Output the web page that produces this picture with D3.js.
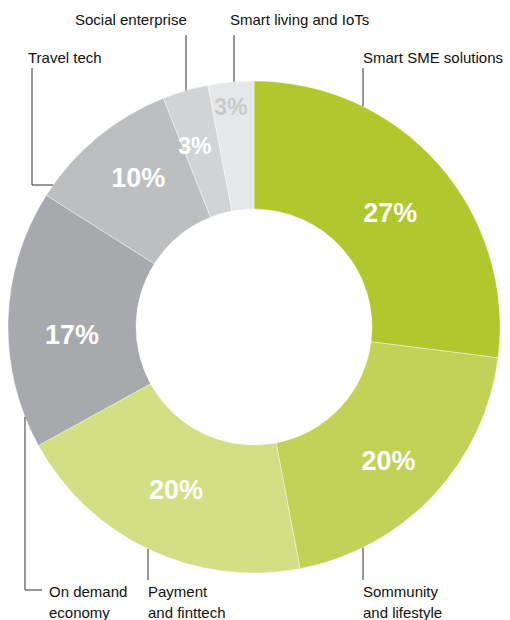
<!DOCTYPE html>
<html>
<head>
<meta charset="utf-8">
<script src="https://cdn.jsdelivr.net/npm/d3@7"></script>
<style>
  html, body { margin: 0; padding: 0; background: #fff; }
  svg { display: block; font-family: "Liberation Sans", Arial, Helvetica, sans-serif; }
</style>
</head>
<body>
<svg id="chart" width="510" height="620"></svg>
<script>
// Segment names (clockwise from 12 o'clock) and their shares in percent
const categories = [
  "Smart SME solutions",
  "Sommunity and lifestyle",
  "Payment and finttech",
  "On demand economy",
  "Travel tech",
  "Social enterprise",
  "Smart living and IoTs"
];
const shares = [27, 20, 20, 17, 10, 3, 3];
const valueLabels = ["27%", "20%", "20%", "17%", "10%", "3%", "3%"];

// Styling for each segment
const fills = ["#b0c72d", "#c1d257", "#d2df84", "#a8a9ac", "#bdbec0", "#d2d3d5", "#e6e7e8"];
const labelColors = ["#fff", "#fff", "#fff", "#fff", "#fff", "#fff", "#c9cacc"];
const labelSizes = [27, 27, 27, 27, 27, 23, 23];
// small hand adjustments of the percentage labels (px)
const labelNudge = [[-1, 6], [1, 8], [0, -3], [1, 13], [1, -9], [-8, -6], [-6, -38]];

// Callout layout: text lines, text anchor, x of the vertical leader run,
// far end y of that run, which half of the ring it meets, optional elbow
const callouts = [
  { i: 0, lines: ["Smart SME solutions"], tx: 363, ty: 63, lx: 363, ly: 68, upper: true },
  { i: 1, lines: ["Sommunity", "and lifestyle"], tx: 363, ty: 597, lx: 363, ly: 580, upper: false },
  { i: 2, lines: ["Payment", "and finttech"], tx: 148, ty: 597, lx: 148, ly: 580, upper: false },
  { i: 3, lines: ["On demand", "economy"], tx: 49, ty: 597, lx: 25, ly: 590, upper: false, elbowX: 42 },
  { i: 4, lines: ["Travel tech"], tx: 28, ty: 63, lx: 32, ly: 68, turnY: 185 },
  { i: 5, lines: ["Social enterprise"], tx: 75, ty: 25, lx: 186, ly: 35, upper: true },
  { i: 6, lines: ["Smart living and IoTs"], tx: 230, ty: 25, lx: 234, ly: 35, upper: true }
];

const cx = 254, cy = 327, rOuter = 246, rInner = 118, rLabel = 183;

const svg = d3.select("#chart");
const g = svg.append("g").attr("transform", `translate(${cx},${cy})`);

const pie = d3.pie().sort(null).value(d => d).startAngle(0).endAngle(2 * Math.PI);
const arcs = pie(shares);
const arc = d3.arc().innerRadius(rInner).outerRadius(rOuter);
const labelArc = d3.arc().innerRadius(rLabel).outerRadius(rLabel);

g.selectAll("path.slice")
  .data(arcs)
  .join("path")
  .attr("class", "slice")
  .attr("d", arc)
  .attr("fill", (d, i) => fills[i])
  .attr("stroke", "#fff")
  .attr("stroke-width", 0.4);

g.selectAll("text.value")
  .data(arcs)
  .join("text")
  .attr("class", "value")
  .attr("transform", (d, i) => {
    const [x, y] = labelArc.centroid(d);
    return `translate(${x + labelNudge[i][0]},${y + labelNudge[i][1]})`;
  })
  .attr("text-anchor", "middle")
  .attr("dy", "0.36em")
  .attr("font-weight", "bold")
  .attr("font-size", (d, i) => labelSizes[i])
  .attr("fill", (d, i) => labelColors[i])
  .text((d, i) => valueLabels[i]);

// point on the outer rim for a given x (upper/lower half) or y (left half)
function rimY(x, upper) {
  const dx = x - cx;
  const dy = Math.sqrt(Math.max(0, rOuter * rOuter - dx * dx));
  return upper ? cy - dy : cy + dy;
}
function rimXLeft(y) {
  const dy = y - cy;
  return cx - Math.sqrt(Math.max(0, rOuter * rOuter - dy * dy));
}

const lineG = svg.append("g").attr("fill", "none").attr("stroke", "#333").attr("stroke-width", 1);
const textG = svg.append("g").attr("font-size", 15).attr("fill", "#111");

callouts.forEach(c => {
  let pts;
  if (c.turnY != null) {
    // vertical drop, then horizontal run into the rim
    pts = [[c.lx, c.ly], [c.lx, c.turnY], [rimXLeft(c.turnY), c.turnY]];
  } else if (c.elbowX != null) {
    pts = [[c.lx, rimY(c.lx, c.upper)], [c.lx, c.ly], [c.elbowX, c.ly]];
  } else {
    pts = [[c.lx, rimY(c.lx, c.upper)], [c.lx, c.ly]];
  }
  lineG.append("path").attr("d", d3.line()(pts));

  const t = textG.append("text").attr("x", c.tx).attr("y", c.ty);
  c.lines.forEach((s, k) => {
    t.append("tspan").attr("x", c.tx).attr("dy", k === 0 ? 0 : 21).text(s);
  });
});
</script>
</body>
</html>
